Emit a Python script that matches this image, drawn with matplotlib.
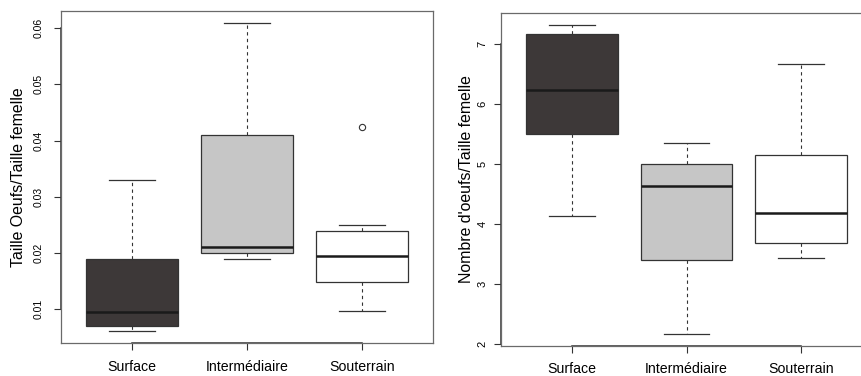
import matplotlib
matplotlib.use("Agg")
import matplotlib.pyplot as plt

plt.rcParams['font.family'] = ['Liberation Sans', 'DejaVu Sans']

# groups and colours
groupes = ["Surface", "Intermédiaire", "Souterrain"]
couleurs = ["#3d3838", "#c6c6c6", "#ffffff"]

# left panel: Taille Oeufs/Taille femelle (whislo, q1, med, q3, whishi)
taille_wlo = [0.0061, 0.0189, 0.0097]
taille_q1 = [0.0070, 0.0200, 0.0148]
taille_med = [0.0094, 0.0211, 0.0195]
taille_q3 = [0.0190, 0.0410, 0.0239]
taille_whi = [0.0329, 0.0609, 0.0250]
taille_out = [[], [], [0.0424]]
taille_ticks = [0.01, 0.02, 0.03, 0.04, 0.05, 0.06]

# right panel: Nombre d'oeufs/Taille femelle
nombre_wlo = [4.14, 2.17, 3.44]
nombre_q1 = [5.50, 3.40, 3.68]
nombre_med = [6.24, 4.64, 4.19]
nombre_q3 = [7.18, 5.00, 5.15]
nombre_whi = [7.32, 5.36, 6.67]
nombre_out = [[], [], []]
nombre_ticks = [2, 3, 4, 5, 6, 7]

fig = plt.figure(figsize=(8.61, 3.76), dpi=100)
ax1 = fig.add_axes([0.0708, 0.087, 0.432, 0.884])
ax2 = fig.add_axes([0.5819, 0.080, 0.431, 0.886])


def draw(ax, wlo, q1, med, q3, whi, out, ticks, ylabel, ypad, lpad, tsize):
    stats = []
    for i in range(3):
        stats.append(dict(whislo=wlo[i], q1=q1[i], med=med[i], q3=q3[i],
                          whishi=whi[i], fliers=out[i], label=groupes[i]))
    res = ax.bxp(stats, positions=[1, 2, 3], widths=0.8, patch_artist=True,
                 boxprops=dict(edgecolor="#333333", linewidth=0.9),
                 medianprops=dict(color="#1a1a1a", linewidth=1.8),
                 whiskerprops=dict(color="#333333", linewidth=0.8,
                                   linestyle=(0, (3, 3))),
                 capprops=dict(color="#333333", linewidth=0.9),
                 capwidths=0.4,
                 flierprops=dict(marker="o", markersize=4.5,
                                 markerfacecolor="none",
                                 markeredgecolor="#333333", markeredgewidth=0.8))
    for patch, c in zip(res["boxes"], couleurs):
        patch.set_facecolor(c)
    lo = min(wlo + [v for o in out for v in o])
    hi = max(whi + [v for o in out for v in o])
    pad = (hi - lo) * 0.04
    ax.set_ylim(lo - pad, hi + pad)
    ax.set_xlim(0.38, 3.62)
    ax.set_yticks(ticks)
    ax.set_yticklabels([f"{t:g}" for t in ticks], rotation=90,
                       va="center", fontsize=tsize)
    ax.set_xticks([1, 2, 3])
    ax.set_xticklabels(groupes, fontsize=10.2)
    ax.tick_params(axis="both", direction="out", length=4.8, width=0.8,
                   color="#333333")
    ax.tick_params(axis="x", pad=7)
    ax.tick_params(axis="y", pad=ypad)
    ax.set_ylabel(ylabel, fontsize=11.4, labelpad=lpad)
    for s in ax.spines.values():
        s.set_color("#6a6a6a")
        s.set_linewidth(0.9)
    # R-style axis lines between first and last ticks
    y0 = ax.get_ylim()[0]
    ax.plot([1, 3], [y0, y0], color="#333333", lw=1.1, clip_on=False)
    ax.plot([0.38, 0.38], [ticks[0], ticks[-1]], color="#333333", lw=1.1,
            clip_on=False)


draw(ax1, taille_wlo, taille_q1, taille_med, taille_q3, taille_whi,
     taille_out, taille_ticks, "Taille Oeufs/Taille femelle", 8, 5, 7.5)
draw(ax2, nombre_wlo, nombre_q1, nombre_med, nombre_q3, nombre_whi,
     nombre_out, nombre_ticks, "Nombre d'oeufs/Taille femelle", 5, 2.5, 8)

fig.savefig("out.png", dpi=100)
